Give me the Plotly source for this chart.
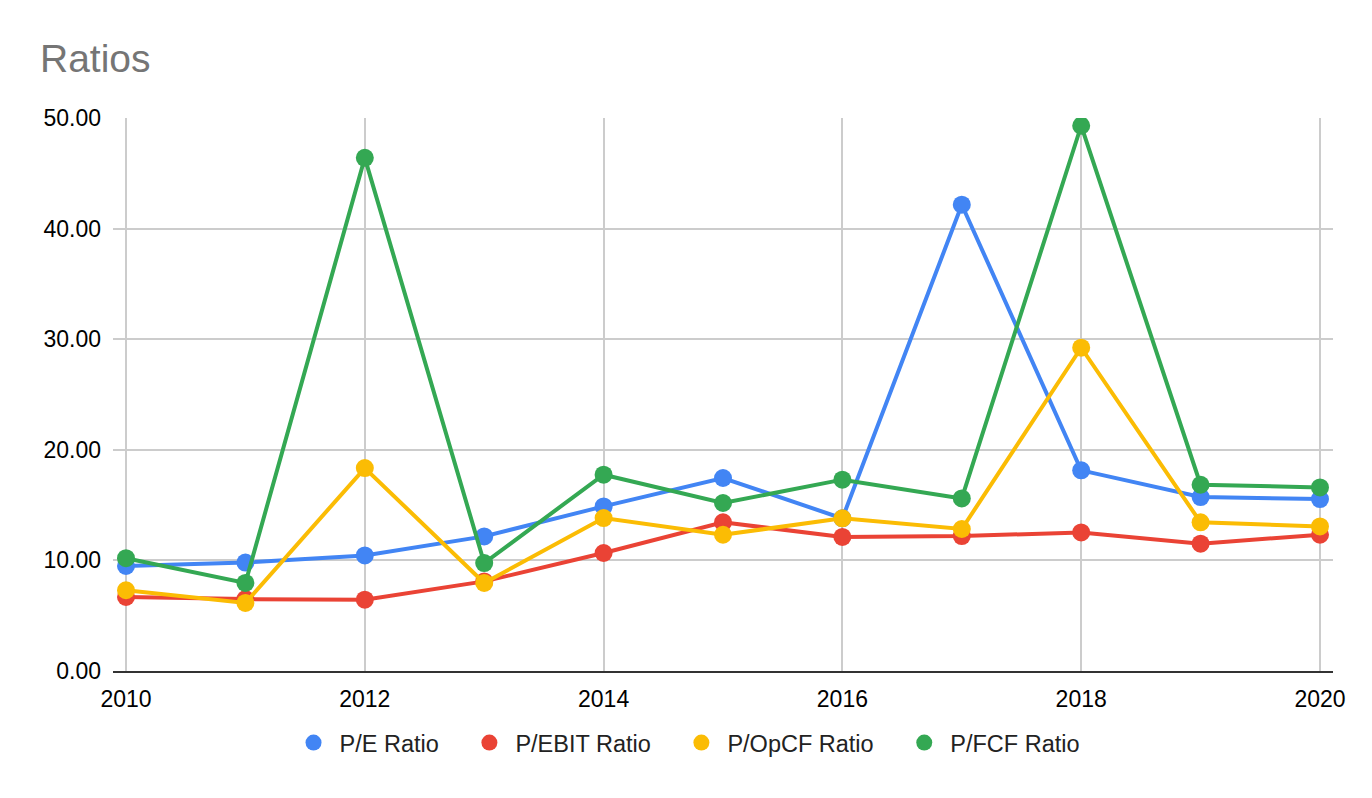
import plotly.graph_objects as go

years = [2010, 2011, 2012, 2013, 2014, 2015, 2016, 2017, 2018, 2019, 2020]
pe_ratio = [9.5, 9.8, 10.45, 12.17, 14.88, 17.45, 13.8, 42.16, 18.14, 15.73, 15.55]
pebit_ratio = [6.7, 6.5, 6.45, 8.1, 10.67, 13.44, 12.12, 12.2, 12.53, 11.51, 12.32]
popcf_ratio = [7.3, 6.15, 18.35, 7.96, 13.83, 12.32, 13.8, 12.84, 29.23, 13.44, 13.07]
pfcf_ratio = [10.2, 7.96, 46.4, 9.76, 17.75, 15.19, 17.3, 15.6, 49.3, 16.84, 16.6]

series_names = ["P/E Ratio", "P/EBIT Ratio", "P/OpCF Ratio", "P/FCF Ratio"]
series_values = [pe_ratio, pebit_ratio, popcf_ratio, pfcf_ratio]
colors = ["#4285F4", "#EA4335", "#FBBC04", "#34A853"]
x_ticks = [2010, 2012, 2014, 2016, 2018, 2020]
y_ticks = [0, 10, 20, 30, 40, 50]

fig = go.Figure()
for name, vals, c in zip(series_names, series_values, colors):
    fig.add_trace(go.Scatter(
        x=years, y=vals, name=name, mode="lines+markers",
        line=dict(color=c, width=4),
        marker=dict(color=c, size=18),
        showlegend=False,
    ))
for i, (name, c) in enumerate(zip(series_names, colors)):
    pad = "" if i == len(series_names) - 1 else "\u00a0\u00a0\u00a0"
    fig.add_trace(go.Scatter(
        x=[None], y=[None], name=name + pad, mode="markers",
        marker=dict(color=c, size=22),
    ))

fig.update_layout(
    width=1356, height=782,
    paper_bgcolor="white", plot_bgcolor="white",
    font=dict(family="Liberation Sans, Arial, sans-serif", size=23, color="#000000"),
    title=dict(text="Ratios", x=0.0236, xref="container", xanchor="left",
               font=dict(size=39, color="#757575"),
               y=0.936, yref="container", yanchor="middle", pad=dict(l=0, r=0, t=0, b=0)),
    margin=dict(l=105, r=31, t=110, b=119, pad=0, autoexpand=False),
    legend=dict(orientation="h", x=0.4697, xanchor="center",
                y=-0.09, yanchor="top",
                font=dict(size=23.5, color="#222222"), itemwidth=42,
                traceorder="normal"),
    showlegend=True,
)
fig.update_xaxes(range=[2009.891, 2020.109], tickvals=x_ticks,
                 showgrid=True, gridcolor="#CCCCCC", gridwidth=1.8,
                 zeroline=False, showline=True, linecolor="#333333", linewidth=2,
                 ticks="", ticklabelstandoff=6,
                 tickfont=dict(size=23, color="#000000"))
fig.update_yaxes(range=[0, 50], tickvals=y_ticks, tickformat=".2f",
                 showgrid=True, gridcolor="#CCCCCC", gridwidth=1.8,
                 zeroline=False, showline=False, ticks="", ticklabelstandoff=11,
                 tickfont=dict(size=23, color="#000000"))

fig.write_html("out.html")
